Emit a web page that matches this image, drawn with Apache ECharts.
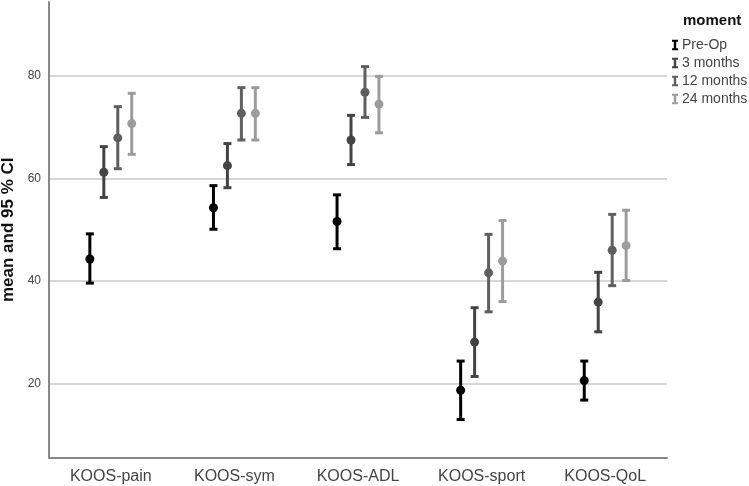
<!DOCTYPE html>
<html>
<head>
<meta charset="utf-8">
<script src="https://cdn.jsdelivr.net/npm/echarts@6/dist/echarts.min.js"></script>
<style>html,body{margin:0;padding:0;background:#fff}#c{width:749px;height:486px}</style>
</head>
<body>
<div id="c"></div>
<script>
// ---- data ----
const categories = ['KOOS-pain', 'KOOS-sym', 'KOOS-ADL', 'KOOS-sport', 'KOOS-QoL'];
const moments = ['Pre-Op', '3 months', '12 months', '24 months'];
// [lower CI, mean, upper CI] per category
const preOp    = [[39.6, 44.3, 49.2], [50.1, 54.3, 58.6], [46.3, 51.6, 56.8], [13.0, 18.7, 24.4], [16.8, 20.6, 24.4]];
const months3  = [[56.3, 61.2, 66.2], [58.2, 62.5, 66.8], [62.7, 67.5, 72.3], [21.4, 28.1, 34.8], [30.1, 35.9, 41.7]];
const months12 = [[61.9, 67.9, 74.0], [67.5, 72.7, 77.7], [71.9, 76.8, 81.8], [34.0, 41.6, 49.1], [39.1, 46.0, 53.0]];
const months24 = [[64.7, 70.7, 76.6], [67.5, 72.7, 77.7], [68.9, 74.5, 79.9], [36.0, 43.9, 51.8], [40.1, 46.9, 53.8]];
const yTicks = [20, 40, 60, 80];

const seriesData = [preOp, months3, months12, months24];
const colors = ['#000000', '#434343', '#5f5f5f', '#9c9c9c'];
const offsets = [-1.5, -0.5, 0.5, 1.5]; // in units of spacing
const spacingFrac = 0.113;

const chart = echarts.init(document.getElementById('c'));

const series = moments.map((name, si) => ({
  name: name,
  type: 'custom',
  itemStyle: { color: colors[si] },
  encode: { x: 0, y: [1, 2, 3] },
  data: seriesData[si].map((d, ci) => [ci, d[0], d[1], d[2]]),
  renderItem: function (params, api) {
    const ci = api.value(0);
    const lo = api.coord([ci, api.value(1)]);
    const mid = api.coord([ci, api.value(2)]);
    const hi = api.coord([ci, api.value(3)]);
    const band = api.size([1, 0])[0];
    const cx = mid[0] + offsets[si] * spacingFrac * band;
    const c = colors[si];
    const capW = 4;
    const st = { stroke: c, lineWidth: 3 };
    return {
      type: 'group',
      children: [
        { type: 'line', shape: { x1: cx, y1: hi[1], x2: cx, y2: lo[1] }, style: st },
        { type: 'line', shape: { x1: cx - capW, y1: hi[1], x2: cx + capW, y2: hi[1] }, style: st },
        { type: 'line', shape: { x1: cx - capW, y1: lo[1], x2: cx + capW, y2: lo[1] }, style: st },
        { type: 'circle', shape: { cx: cx, cy: mid[1], r: 4.5 }, style: { fill: c } }
      ]
    };
  }
}));

chart.setOption({
  backgroundColor: '#ffffff',
  animation: false,
  title: {
    text: 'moment',
    left: 678, top: 8,
    textStyle: { fontFamily: 'Liberation Sans, Arial', fontSize: 15, fontWeight: 'bold', color: '#111' }
  },
  legend: {
    orient: 'vertical',
    left: 667, top: 33,
    itemWidth: 6, itemHeight: 11, itemGap: 4,
    icon: 'path://M0,0H8V2.6H5.6V11.4H8V14H0V11.4H2.4V2.6H0Z',
    textStyle: { fontFamily: 'Liberation Sans, Arial', fontSize: 14, color: '#444', padding: [0, 0, 0, -1] },
    data: moments
  },
  grid: { left: 49, right: 82, top: 2, bottom: 28.5, containLabel: false, outerBoundsMode: 'none' },
  xAxis: {
    type: 'category',
    data: categories,
    boundaryGap: true,
    axisLine: { onZero: false, lineStyle: { color: '#888', width: 2 } },
    axisTick: { show: false },
    axisLabel: { margin: 11, fontFamily: 'Liberation Sans, Arial', fontSize: 16, color: '#444' },
    splitLine: { show: false }
  },
  yAxis: {
    type: 'value',
    min: 5.6, max: 94.4,
    splitNumber: 5,
    name: 'mean and 95 % CI',
    nameLocation: 'middle',
    nameGap: 28,
    nameTextStyle: { fontFamily: 'Liberation Sans, Arial', fontSize: 17, fontWeight: 'bold', color: '#111' },
    axisLine: { show: true, lineStyle: { color: '#888', width: 2 } },
    axisTick: { show: false },
    axisLabel: {
      margin: 8, fontFamily: 'Liberation Sans, Arial', fontSize: 12, color: '#444',
      showMinLabel: false, showMaxLabel: false,
      formatter: v => (yTicks.indexOf(v) >= 0 ? String(v) : '')
    },
    splitLine: { show: true, showMinLine: false, showMaxLine: false, lineStyle: { color: '#c8c8c8', width: 1.5 } }
  },
  series: series
});
</script>
</body>
</html>
